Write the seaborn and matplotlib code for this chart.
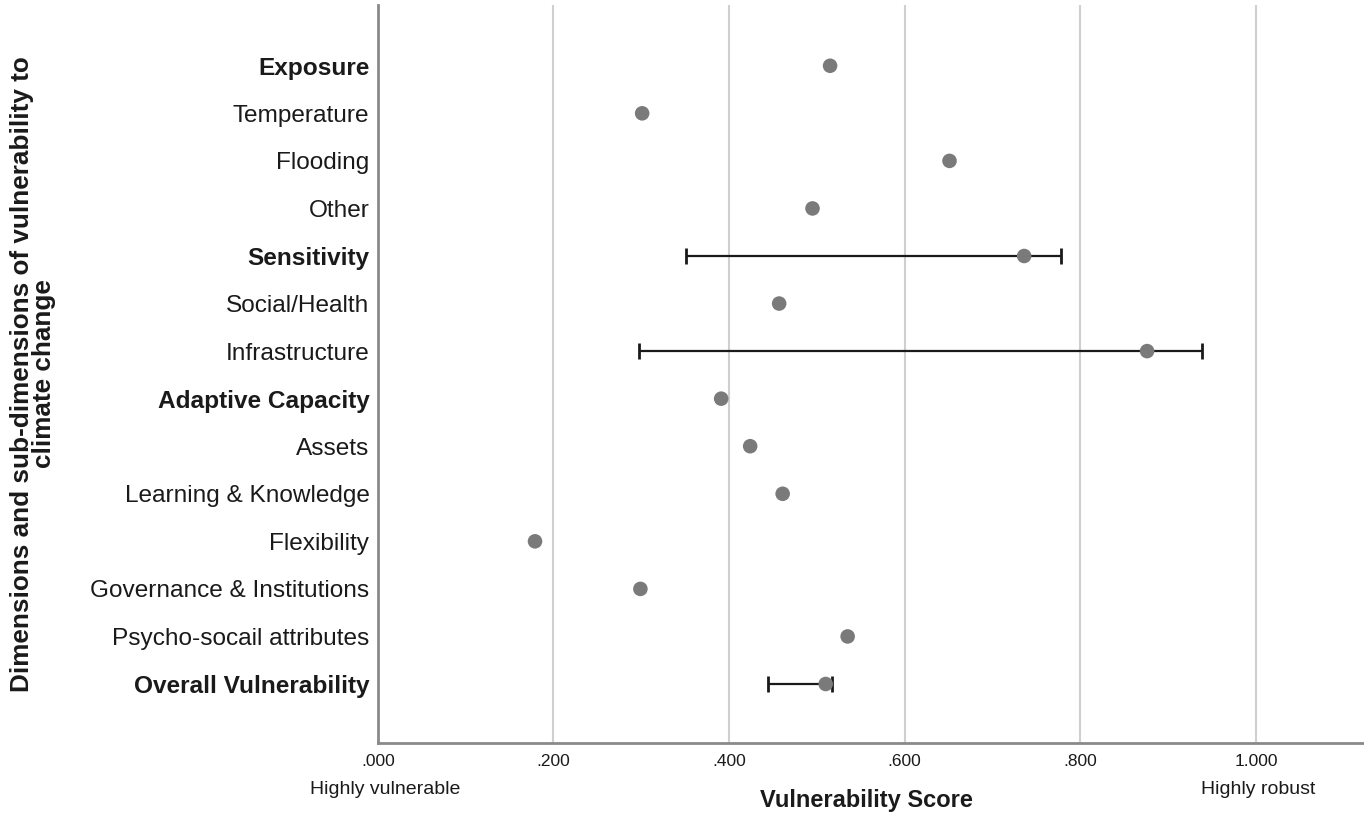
import numpy as np
import pandas as pd
import matplotlib
matplotlib.use("Agg")
import matplotlib.pyplot as plt
import seaborn as sns

categories = ["Exposure", "Temperature", "Flooding", "Other", "Sensitivity",
              "Social/Health", "Infrastructure", "Adaptive Capacity", "Assets",
              "Learning & Knowledge", "Flexibility", "Governance & Institutions",
              "Psycho-socail attributes", "Overall Vulnerability"]
scores = [0.515, 0.301, 0.651, 0.495, 0.736, 0.457, 0.876, 0.391, 0.424,
          0.461, 0.179, 0.299, 0.535, 0.510]
lower = [np.nan, np.nan, np.nan, np.nan, 0.351, np.nan, 0.297, np.nan, np.nan,
         np.nan, np.nan, np.nan, np.nan, 0.444]
upper = [np.nan, np.nan, np.nan, np.nan, 0.778, np.nan, 0.938, np.nan, np.nan,
         np.nan, np.nan, np.nan, np.nan, 0.517]
bold_rows = ["Exposure", "Sensitivity", "Adaptive Capacity", "Overall Vulnerability"]
xticks = [0.0, 0.2, 0.4, 0.6, 0.8, 1.0]
xticklabels = [".000", ".200", ".400", ".600", ".800", "1.000"]

sns.set_theme(style="white")
plt.rcParams["font.family"] = ["Liberation Sans", "DejaVu Sans"]

df = pd.DataFrame({"cat": categories, "score": scores, "lo": lower, "hi": upper})
df["pos"] = np.arange(len(df))

fig = plt.figure(figsize=(13.64, 8.16), dpi=100)
ax = fig.add_axes([0.277, 0.0895, 0.723, 0.9045])

for xv in xticks[1:]:
    ax.axvline(xv, color="#cfcfcf", lw=1.5, zorder=0)

eb = df.dropna(subset=["lo"])
ax.errorbar(x=eb["score"], y=eb["pos"],
            xerr=[eb["score"] - eb["lo"], eb["hi"] - eb["score"]],
            fmt="none", ecolor="#1a1a1a", elinewidth=1.6, capsize=5.5,
            capthick=2, zorder=2)

sns.scatterplot(data=df, x="score", y="pos", ax=ax, color="#7a7a7a", s=110,
                edgecolor="none", zorder=3, legend=False)

ax.set_xlim(0, 1.123)
ax.set_ylim(len(df) - 1 + 1.24, -1.28)
ax.set_yticks(df["pos"])
ax.set_yticklabels(categories, fontsize=17.6, color="#1a1a1a")
for lab in ax.get_yticklabels():
    if lab.get_text() in bold_rows:
        lab.set_fontweight("bold")
ax.set_xticks(xticks)
ax.set_xticklabels(xticklabels, fontsize=12.5, color="#1a1a1a")
ax.tick_params(axis="both", length=0)
ax.tick_params(axis="y", pad=6)
ax.tick_params(axis="x", pad=8)

for s in ["top", "right"]:
    ax.spines[s].set_visible(False)
for s in ["left", "bottom"]:
    ax.spines[s].set_color("#8a8a8a")
    ax.spines[s].set_linewidth(2)

ax.set_xlabel("")
ax.set_ylabel("Dimensions and sub-dimensions of vulnerability to\nclimate change",
              fontsize=18.8, fontweight="bold", color="#1a1a1a",
              linespacing=0.92)
ax.yaxis.set_label_coords(-0.326, 0.5)

fig.text(866 / 1364, 1 - 800 / 816, "Vulnerability Score", ha="center", va="center",
         fontsize=17, fontweight="bold", color="#1a1a1a")
fig.text(385 / 1364, 1 - 790 / 816, "Highly vulnerable", ha="center", va="center",
         fontsize=14, color="#1a1a1a")
fig.text(1258 / 1364, 1 - 790 / 816, "Highly robust", ha="center", va="center",
         fontsize=14, color="#1a1a1a")

fig.savefig("out.png", dpi=100)
